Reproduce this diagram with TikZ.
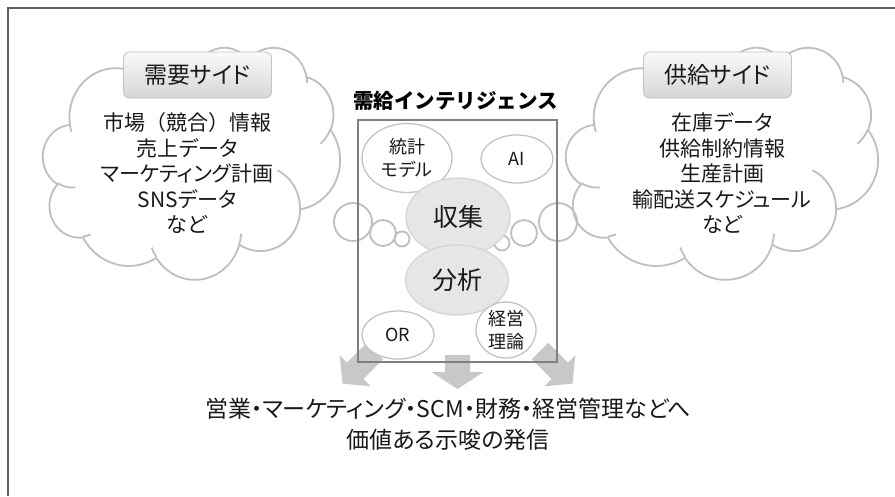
\documentclass[tikz,border=0pt]{standalone}
\usepackage{fontspec}
\setmainfont{Noto Sans CJK JP}[RawFeature=+palt]
\newfontfamily\jpfull{Noto Sans CJK JP}
\usetikzlibrary{shapes.geometric}

\definecolor{cloudline}{RGB}{191,191,191}
\definecolor{boxline}{RGB}{128,128,128}
\definecolor{ellline}{RGB}{195,195,195}
\definecolor{ellfill}{RGB}{230,230,230}
\definecolor{ellfillline}{RGB}{212,212,212}
\definecolor{arrowfill}{RGB}{200,200,200}
\definecolor{framecol}{RGB}{95,95,95}
\definecolor{txt}{RGB}{25,25,25}
\definecolor{hdrtop}{RGB}{250,250,250}
\definecolor{hdrbot}{RGB}{214,214,214}
\definecolor{hdrline}{RGB}{195,195,195}

% visual (DrawingML) angle -> parametric angle
\newcommand\visarc[5]{%
  \pgfmathsetmacro\vaTs{atan2((#2)*sin(#4),(#3)*cos(#4))}%
  \pgfmathsetmacro\vaTe{atan2((#2)*sin((#4)+(#5)),(#3)*cos((#4)+(#5)))}%
  \pgfmathsetmacro\vaD{\vaTe-\vaTs}%
  \pgfmathsetmacro\vaD{\vaD-360*round((\vaD-(#5))/360)}%
  \expandafter\xdef\csname #1S\endcsname{\vaTs}%
  \expandafter\xdef\csname #1D\endcsname{\vaD}%
}

\newcommand\cloudshape[4]{%
\begin{scope}[shift={(#1,#2)}, x=1pt, y=1pt, xscale=#3/432, yscale=-#4/432]
\filldraw[cloudst, fill=white] (39.00,143.70)
  arc[start angle=\OaS, delta angle=\OaD, x radius=67.53, y radius=91.90]
  arc[start angle=\ObS, delta angle=\ObD, x radius=53.33, y radius=72.67]
  arc[start angle=\OcS, delta angle=\OcD, x radius=43.65, y radius=59.45]
  arc[start angle=\OdS, delta angle=\OdD, x radius=48.57, y radius=65.95]
  arc[start angle=\OeS, delta angle=\OeD, x radius=53.33, y radius=72.73]
  arc[start angle=\OfS, delta angle=\OfD, x radius=67.75, y radius=92.20]
  arc[start angle=\OgS, delta angle=\OgD, x radius=57.85, y radius=78.67]
  arc[start angle=\OhS, delta angle=\OhD, x radius=67.52, y radius=92.15]
  arc[start angle=\OiS, delta angle=\OiD, x radius=77.20, y radius=105.43]
  arc[start angle=\OjS, delta angle=\OjD, x radius=43.60, y radius=59.18]
  arc[start angle=\OkS, delta angle=\OkD, x radius=43.45, y radius=59.45]
  -- cycle;
\draw[cloudst]
  (46.93,261.77) arc[start angle=\IaS, delta angle=\IaD, x radius=43.45, y radius=59.45]
  (69.28,348.99) arc[start angle=\IbS, delta angle=\IbD, x radius=43.60, y radius=59.18]
  (164.78,390.90) arc[start angle=\IcS, delta angle=\IcD, x radius=67.52, y radius=92.15]
  (288.27,347.51) arc[start angle=\IdS, delta angle=\IdD, x radius=67.52, y radius=92.15]
  (341.29,229.54) arc[start angle=\IeS, delta angle=\IeD, x radius=57.85, y radius=78.67]
  (417.98,153.54) arc[start angle=\IfS, delta angle=\IfD, x radius=53.33, y radius=72.73]
  (383.24,54.26) arc[start angle=\IgS, delta angle=\IgD, x radius=48.57, y radius=65.95]
  (290.78,39.52) arc[start angle=\IhS, delta angle=\IhD, x radius=48.57, y radius=65.95]
  (221.41,47.20) arc[start angle=\IiS, delta angle=\IiD, x radius=43.65, y radius=59.45]
  (140.00,51.92) arc[start angle=\IjS, delta angle=\IjD, x radius=67.53, y radius=91.90]
  (41.27,157.89) arc[start angle=\IkS, delta angle=\IkD, x radius=67.53, y radius=91.90];
\end{scope}}

\tikzset{
  cloudst/.style={draw=cloudline, line width=1.8pt},
  hdr/.style={draw=hdrline, line width=0.9pt, rounded corners=6pt, top color=hdrtop, bottom color=hdrbot,
    minimum width=148pt, minimum height=46pt, inner sep=0pt, text=txt, font=\fontsize{23}{27}\selectfont},
  ctext/.style={align=center, text=txt, font=\fontsize{21}{25.5}\selectfont},
  ell/.style={ellipse, draw=ellline, fill=white, line width=1.3pt, inner sep=0pt, align=center,
    text=txt, font=\fontsize{18}{23}\selectfont},
  bigell/.style={ellipse, draw=ellfillline, fill=ellfill, line width=1.2pt, inner sep=0pt,
    text=txt, font=\fontsize{25}{30}\selectfont},
  bubble/.style={circle, draw=cloudline, line width=1.8pt, inner sep=0pt},
  pics/barrow/.style n args={4}{code={%
    \fill[arrowfill] (-#1,0) -- (#1,0) -- (#1,#2) -- (#3,#2) -- (0,#2+#4) -- (-#3,#2) -- (-#1,#2) -- cycle;}}
}

\begin{document}
\begin{tikzpicture}[x=1pt, y=-1pt]
\visarc{Oa}{67.53}{91.90}{-190.4875}{123.7805}
\visarc{Ob}{53.33}{72.67}{-144.1024}{89.9452}
\visarc{Oc}{43.65}{59.45}{-145.8079}{99.7230}
\visarc{Od}{48.57}{65.95}{-130.9861}{117.2417}
\visarc{Oe}{53.33}{72.73}{-78.7089}{109.0269}
\visarc{Of}{67.75}{92.20}{-46.2673}{130.2690}
\visarc{Og}{57.85}{78.67}{0.6250}{114.0333}
\visarc{Oh}{67.52}{92.15}{22.4516}{115.1726}
\visarc{Oi}{77.20}{105.43}{66.2426}{75.7110}
\visarc{Oj}{43.60}{59.18}{-274.9421}{146.7356}
\visarc{Ok}{43.45}{59.45}{-246.8285}{152.5189}
\visarc{Ia}{43.45}{59.45}{86.7420}{26.4295}
\visarc{Ib}{43.60}{59.18}{73.6105}{11.4475}
\visarc{Ic}{67.52}{92.15}{137.6242}{14.0811}
\visarc{Id}{67.52}{92.15}{6.4533}{15.9984}
\visarc{Ie}{57.85}{78.67}{-70.2924}{70.9174}
\visarc{If}{53.33}{72.73}{30.3180}{27.7515}
\visarc{Ig}{48.57}{65.95}{-13.7443}{14.8589}
\visarc{Ih}{48.57}{65.95}{-149.1815}{18.1954}
\visarc{Ii}{43.65}{59.45}{-163.4943}{17.6864}
\visarc{Ij}{67.53}{91.90}{-66.7070}{12.3194}
\visarc{Ik}{67.53}{91.90}{157.6544}{11.8582}

\useasboundingbox (0,0) rectangle (895,496);
\fill[white] (0,0) rectangle (895,496);
\draw[framecol, line width=1.6pt] (8,496) -- (8,8) -- (895,8);

% clouds
\cloudshape{43}{47}{297}{232}
\cloudshape{566}{47}{312}{232}

% headers and cloud texts
\node[hdr] (dhdr) at (197.5,75) {需要サイド};
\node[hdr] (shdr) at (717.5,75) {供給サイド};
\node[ctext] (dtext) at (187,173.5) {{\jpfull 市場（競合）情報}\\売上データ\\マーケティング計画\\SNSデータ\\など};
\node[ctext] (stext) at (722,173.5) {在庫データ\\供給制約情報\\生産計画\\輸配送スケジュール\\など};

% thought bubbles
\node[bubble, minimum size=38pt] (lb1) at (353,222) {};
\node[bubble, minimum size=26pt] (lb2) at (383,233) {};
\node[bubble, minimum size=15pt] (lb3) at (402,239) {};
\node[bubble, minimum size=38pt] (rb1) at (558,222) {};
\node[bubble, minimum size=26pt] (rb2) at (524,233) {};
\node[bubble, minimum size=15pt] (rb3) at (502,243) {};

% output arrows
\pic[rotate=-45] (larr) at (375,351) {barrow={11.5}{28}{22}{18}};
\pic (carr) at (457.5,355) {barrow={12.5}{17}{26}{17}};
\pic[rotate=45] (rarr) at (540,351) {barrow={11.5}{28}{22}{18}};

% intelligence box
\node[draw=boxline, line width=1.8pt, minimum width=199pt, minimum height=242pt, inner sep=0pt] (ibox) at (457.5,241) {};
\node[font=\jpfull\bfseries\fontsize{20.5}{25}\selectfont, text=black] (title) at (455.5,101) {需給インテリジェンス};

% ellipses
\node[ell, minimum width=90pt, minimum height=69pt] (stat) at (407,158) {統計\\モデル};
\node[ell, minimum width=72pt, minimum height=48pt] (ai) at (517,159) {AI};
\node[bigell, minimum width=104pt, minimum height=78pt] (coll) at (458,217) {収集};
\node[bigell, minimum width=103pt, minimum height=70pt] (anal) at (457,280) {分析};
\node[ell, minimum width=72pt, minimum height=48pt] (or) at (398,335) {OR};
\node[ell, minimum width=60pt, minimum height=54pt] (mgmt) at (506,330) {経営\\理論};

% bottom text
\node[ctext, font=\fontsize{23}{31}\selectfont] (out) at (448,424.5) {営業・マーケティング・SCM・財務・経営管理などへ\\価値ある示唆の発信};
\end{tikzpicture}
\end{document}
